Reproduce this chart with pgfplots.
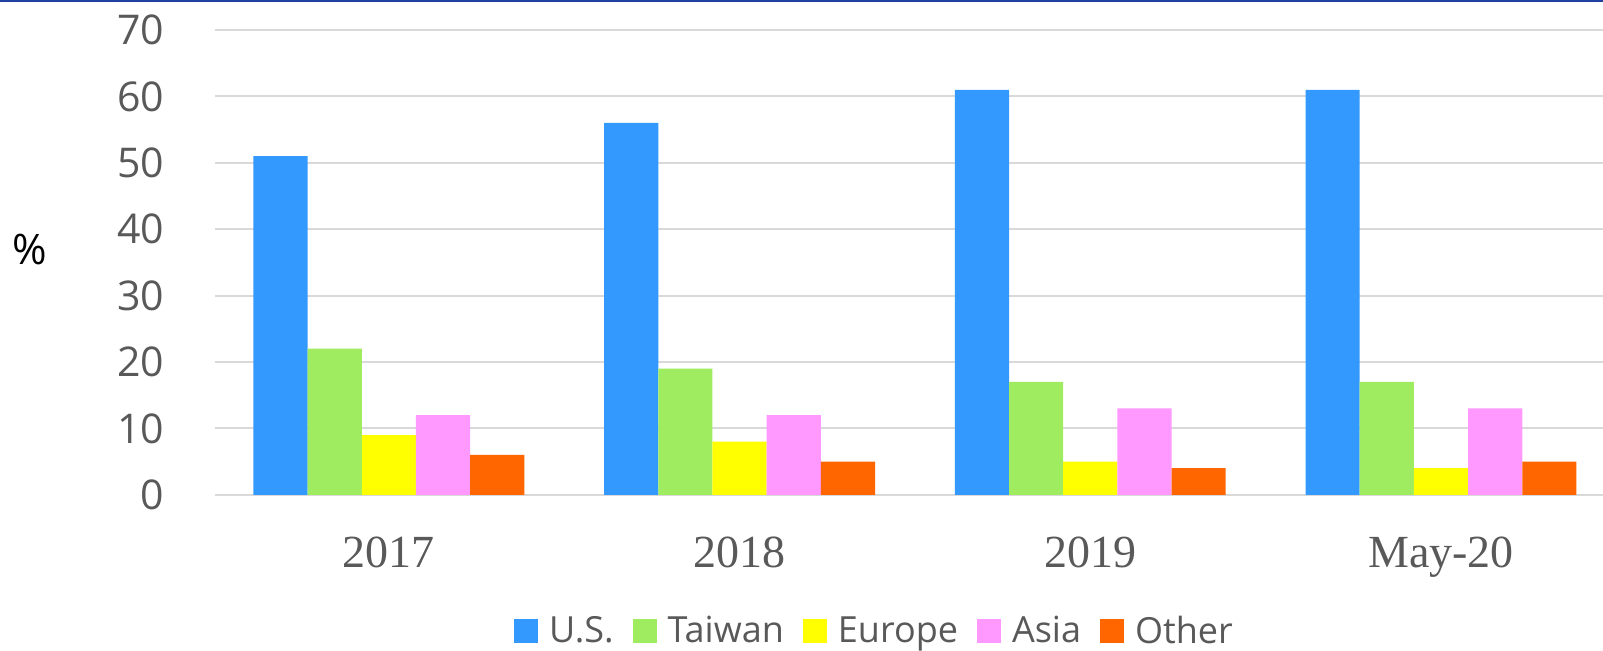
\documentclass[border=0pt]{standalone}
\usepackage{pgfplots}
\pgfplotsset{compat=1.18}
\usepackage{fontspec}
\setmainfont{Open Sans}
\newfontfamily\tickfont{Open Sans}
\newfontfamily\catfont{Liberation Serif}
\definecolor{cUS}{HTML}{3399FF}
\definecolor{cTW}{HTML}{A0EC60}
\definecolor{cEU}{HTML}{FFFF00}
\definecolor{cAS}{HTML}{FF99FF}
\definecolor{cOT}{HTML}{FF6600}
\definecolor{gridc}{HTML}{D9D9D9}
\definecolor{tickc}{HTML}{595959}
\definecolor{topline}{RGB}{31,64,160}
\begin{document}
\begin{tikzpicture}
\useasboundingbox (0,0) rectangle (801.5pt,325pt);
\clip (0,0) rectangle (801.5pt,325pt);
\begin{axis}[
  at={(107.3pt,77.6pt)}, anchor=south west,
  scale only axis, width=694.2pt, height=232.4pt,
  xmin=-0.497, xmax=3.462, ymin=0, ymax=70,
  ybar=0pt, bar width=0.1545,
  xtick={0,1,2,3},
  xticklabels={2017,2018,2019,May-20},
  ytick={0,10,...,70},
  ymajorgrids, major grid style={draw=gridc, line width=1pt},
  axis line style={draw=none},
  major tick length=0pt,
  /pgf/number format/assume math mode=true,
  yticklabel style={font=\tickfont\fontsize{20.5pt}{24pt}\selectfont, text=tickc, anchor=east, inner sep=0pt, xshift=-25pt},
  xticklabel style={font=\catfont\fontsize{23pt}{27pt}\selectfont, text=tickc, anchor=base, yshift=-36.5pt},
  ylabel={\%},
  ylabel style={rotate=-90, at={(axis description cs:-0.133,0.527)}, anchor=center, font=\tickfont\fontsize{21pt}{24pt}\selectfont, text=black},
  legend columns=-1,
  legend style={draw=none, at={(axis description cs:0.4757,-0.293)}, anchor=center,
    font=\tickfont\fontsize{18pt}{22pt}\selectfont, text=tickc,
    /tikz/every odd column/.append style={column sep=4pt},
    /tikz/every even column/.append style={column sep=8pt},
    nodes={inner sep=1.5pt}},
  legend image code/.code={\fill[#1] (0pt,-6pt) rectangle (12pt,6pt);},
]
\addplot[fill=cUS, draw=none] coordinates {(0,51) (1,56) (2,61) (3,61)};
\addplot[fill=cTW, draw=none] coordinates {(0,22) (1,19) (2,17) (3,17)};
\addplot[fill=cEU, draw=none] coordinates {(0,9) (1,8) (2,5) (3,4)};
\addplot[fill=cAS, draw=none] coordinates {(0,12) (1,12) (2,13) (3,13)};
\addplot[fill=cOT, draw=none] coordinates {(0,6) (1,5) (2,4) (3,5)};
\legend{U.S.,Taiwan,Europe,Asia,Other}
\end{axis}
\draw[topline, line width=1pt] (0,324.5pt) -- (801.5pt,324.5pt);
\end{tikzpicture}
\end{document}
